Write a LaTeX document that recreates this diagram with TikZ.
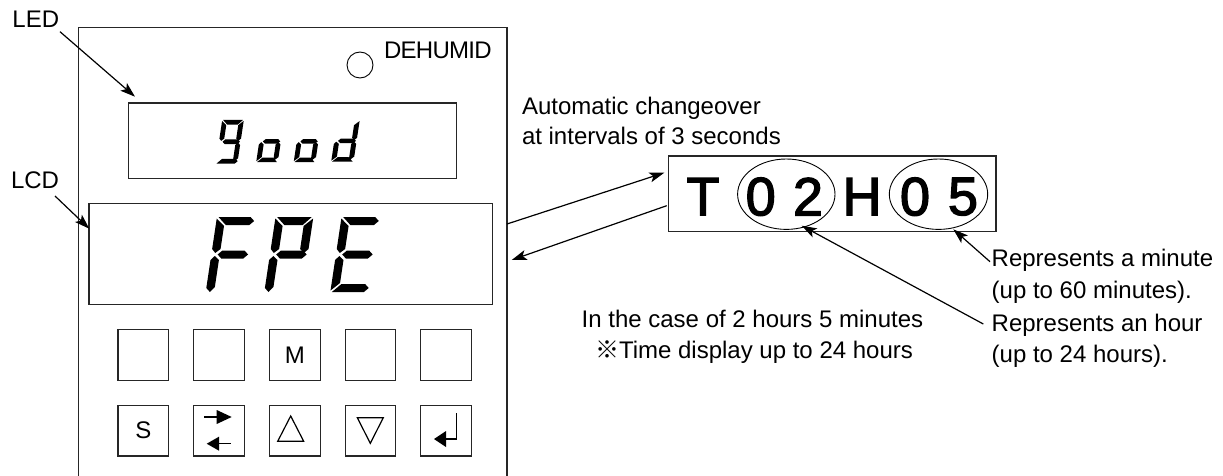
\documentclass[tikz,border=0pt]{standalone}
\usepackage{fontspec}
\setmainfont{Liberation Sans}
\newfontfamily\cjkmark{Noto Sans CJK JP}
\newfontfamily\bigdigit[FakeBold=2.5]{Liberation Sans}
\usetikzlibrary{arrows.meta}
\newcommand\fs[1]{\fontsize{#1}{#1}\selectfont}
\tikzset{
  x=1pt,y=1pt,
  every picture/.style={line join=miter},
  panel/.style={draw=black!85,line width=1.2pt},
  box/.style={draw=black!85,line width=1.2pt,inner sep=0pt,outer sep=0pt,fill=none},
  keybox/.style={box,minimum width=50.7pt,minimum height=50.7pt},
  lbl/.style={anchor=base west,inner sep=0pt,outer sep=0pt,font=\fs{24}},
  bigch/.style={anchor=center,inner sep=0pt,font=\fs{54}\bigdigit},
  oval/.style={draw=black,line width=0.9pt},
  ptr/.style={draw=black,line width=1.2pt,-{Stealth[length=15pt,width=10pt,inset=3.5pt]}},
  symline/.style={draw=black,line width=1.2pt},
}
% seven-segment pieces in a 36 x 75 cell, origin bottom left
\newcommand\sA{\fill (1.5,75)--(32,75)--(36,71)--(32,67)--(9.5,67)--cycle;}
\newcommand\sAw{\fill (1.5,75)--(34.5,75)--(27,67)--(9.5,67)--cycle;}
\newcommand\sB{\fill (36,73.5)--(36,43)--(32,39)--(28,43)--(28,66)--cycle;}
\newcommand\sC{\fill (36,32)--(36,9)--(28,1.5)--(28,32)--(32,36)--cycle;}
\newcommand\sD{\fill (1.5,0)--(9.5,8)--(27,8)--(34.5,0)--cycle;}
\newcommand\sDp{\fill (1.5,0)--(9.5,8)--(32,8)--(36,4)--(32,0)--cycle;}
\newcommand\sE{\fill (0,32)--(3.5,36)--(8,32)--(8,9)--(0,1.5)--cycle;}
\newcommand\sEp{\fill (0,32)--(3.5,36)--(8,32)--(8,5)--(4,0)--(0,4)--cycle;}
\newcommand\sF{\fill (0,73.5)--(8,66)--(8,43)--(3.5,39)--(0,43)--cycle;}
\newcommand\sG{\fill (6,37.5)--(10,41.5)--(31,41.5)--(35,37.5)--(31,33.5)--(10,33.5)--cycle;}
\newcommand\glyph[5]{\begin{scope}[cm={#3,0,{0.15*#4},#4,(#1,#2)}]#5\end{scope}}
\begin{document}
\begin{tikzpicture}
\useasboundingbox (0,-476) rectangle (1223,0);
% panel, open at the bottom
\coordinate (pbl) at (78.5,-476);
\coordinate (ptl) at (78.5,-27.5);
\coordinate (ptr) at (507,-27.5);
\coordinate (pbr) at (507,-476);
\draw[panel] (pbl)--(ptl)--(ptr)--(pbr);
% displays
\node[box,minimum width=328pt,minimum height=75.5pt] (led) at (292.5,-140.7) {};
\node[box,minimum width=403.5pt,minimum height=101pt] (lcd) at (290.7,-254) {};
\node[draw=black,line width=0.9pt,circle,minimum size=26pt,inner sep=0pt] (lamp) at (360,-65) {};
\node[lbl] (dehumid) at (384,-59) {\addfontfeature{LetterSpace=-3}DEHUMID};
% segment glyphs
\glyph{205.7}{-292}{1.05}{1}{\sA\sF\sEp\sG}
\glyph{264.3}{-292}{1.05}{1}{\sAw\sF\sEp\sG\sB}
\glyph{330.3}{-292}{1.05}{1}{\sA\sF\sE\sG\sDp}
\glyph{215.7}{-163.5}{0.6}{0.58}{\sAw\sF\sG\sB\sC\sDp}
\glyph{256.2}{-162}{0.6}{0.55}{\sG\sE\sC\sD}
\glyph{293.7}{-162}{0.6}{0.55}{\sG\sE\sC\sD}
\glyph{331.2}{-161.5}{0.62}{0.55}{\sB\sG\sE\sC\sD}
% keys
\node[keybox] (k1) at (143.4,-355) {};
\node[keybox] (k2) at (219.1,-355) {};
\node[keybox] (k3) at (294.8,-355) {};
\node[keybox] (k4) at (370.5,-355) {};
\node[keybox] (k5) at (446.2,-355) {};
\node[keybox] (k6) at (143.4,-430.7) {};
\node[keybox] (k7) at (219.1,-430.7) {};
\node[keybox] (k8) at (294.8,-430.7) {};
\node[keybox] (k9) at (370.5,-430.7) {};
\node[keybox] (k10) at (446.2,-430.7) {};
\node[inner sep=0pt,font=\fs{24}] (mlabel) at (k3) {M};
\node[inner sep=0pt,font=\fs{24}] (slabel) at (k6) {S};
% key symbols
\draw[symline] (204,-417)--(217,-417);
\fill (216.7,-410)--(231.7,-417)--(216.7,-424)--cycle;
\draw[symline] (219,-443.7)--(230.7,-443.7);
\fill (219,-436.7)--(206.7,-443.7)--(219,-450.7)--cycle;
\draw[symline,line join=miter] (290.7,-416)--(303.7,-441.3)--(277.7,-441.3)--cycle;
\draw[symline,line join=miter] (370.3,-443.3)--(383.3,-417.7)--(357.3,-417.7)--cycle;
\draw[symline] (456.7,-413.3)--(456.7,-439)--(445,-439);
\fill (446,-431)--(434,-439)--(446,-447)--cycle;
% time display
\node[box,minimum width=327.7pt,minimum height=75.3pt] (tbox) at (832.2,-193.7) {};
\node[bigch] (cT) at (703,-196.7) {T};
\node[bigch] (c0a) at (760.7,-196.7) {0};
\node[bigch] (c2) at (808,-196.7) {2};
\node[bigch] (cH) at (862,-196.7) {H};
\node[bigch] (c0b) at (915,-196.7) {0};
\node[bigch] (c5) at (963,-196.7) {5};
\draw[oval] (786.3,-194.2) ellipse [x radius=48.7,y radius=35.2];
\draw[oval] (938.5,-194.2) ellipse [x radius=49.2,y radius=35.2];
% labels
\node[lbl] (ledlabel) at (12.5,-28) {LED};
\node[lbl] (lcdlabel) at (11,-188) {LCD};
\node[lbl] (auto1) at (522,-115) {Automatic changeover};
\node[lbl] (auto2) at (522,-145) {at intervals of 3 seconds};
\node[lbl] (case1) at (581.7,-327.3) {In the case of 2 hours 5 minutes};
\node[lbl] (case2) at (595,-358) {{\cjkmark ※}Time display up to 24 hours};
\node[lbl] (minute1) at (991.7,-266.7) {Represents a minute};
\node[lbl] (minute2) at (991.7,-298) {(up to 60 minutes).};
\node[lbl] (hour1) at (991.7,-331) {Represents an hour};
\node[lbl] (hour2) at (991.7,-362) {(up to 24 hours).};
% connectors
\coordinate (ledfrom) at (60,-31.7);
\coordinate (ledtip) at (135,-96.7);
\coordinate (lcdfrom) at (55,-196);
\coordinate (lcdtip) at (89.3,-228.7);
\coordinate (upfrom) at (507,-224);
\coordinate (uptip) at (664.3,-172.7);
\coordinate (downfrom) at (666.7,-205.7);
\coordinate (downtip) at (511.7,-260);
\coordinate (minfrom) at (990,-261.7);
\coordinate (mintip) at (953.3,-229.3);
\coordinate (hourfrom) at (983.3,-324);
\coordinate (hourtip) at (801.7,-225.7);
\draw[ptr] (ledfrom)--(ledtip);
\draw[ptr] (lcdfrom)--(lcdtip);
\draw[ptr] (upfrom)--(uptip);
\draw[ptr] (downfrom)--(downtip);
\draw[ptr] (minfrom)--(mintip);
\draw[ptr] (hourfrom)--(hourtip);
\end{tikzpicture}
\end{document}
